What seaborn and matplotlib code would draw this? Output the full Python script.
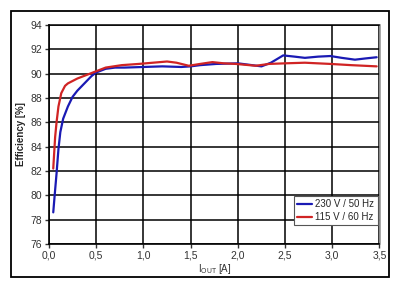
import matplotlib
matplotlib.use("Agg")
import matplotlib.pyplot as plt
import seaborn as sns
import pandas as pd
from matplotlib.ticker import FuncFormatter
from matplotlib.patches import Rectangle

# ---- data ----
series_names = ["230 V / 50 Hz", "115 V / 60 Hz"]
blue_x = [0.045, 0.06, 0.08, 0.1, 0.12, 0.15, 0.2, 0.25, 0.3, 0.35, 0.4, 0.45, 0.5, 0.6, 0.7,
          0.8, 1.0, 1.2, 1.4, 1.5, 1.6, 1.77, 2.0, 2.1, 2.25, 2.35, 2.48, 2.6, 2.71, 2.85,
          2.98, 3.1, 3.24, 3.35, 3.47]
blue_y = [78.6, 80.0, 81.8, 83.8, 85.2, 86.3, 87.3, 88.1, 88.6, 89.0, 89.4, 89.8, 90.1, 90.4, 90.5,
          90.5, 90.55, 90.6, 90.55, 90.6, 90.7, 90.8, 90.85, 90.75, 90.6, 90.9, 91.5, 91.4, 91.3, 91.4,
          91.45, 91.3, 91.15, 91.25, 91.35]
red_x = [0.045, 0.055, 0.065, 0.08, 0.1, 0.13, 0.17, 0.2, 0.3, 0.4, 0.5, 0.6, 0.77, 0.95, 1.1,
         1.25, 1.35, 1.48, 1.6, 1.73, 1.85, 1.98, 2.19, 2.33, 2.5, 2.71, 2.98, 3.2, 3.47]
red_y = [82.2, 83.5, 84.8, 86.0, 87.3, 88.4, 89.0, 89.2, 89.6, 89.9, 90.2, 90.5, 90.7, 90.8, 90.9,
         91.0, 90.9, 90.65, 90.8, 90.95, 90.85, 90.8, 90.65, 90.8, 90.85, 90.9, 90.8, 90.7, 90.6]
x_ticks = [0.0, 0.5, 1.0, 1.5, 2.0, 2.5, 3.0, 3.5]
y_ticks = [76, 78, 80, 82, 84, 86, 88, 90, 92, 94]

df = pd.concat([
    pd.DataFrame({"I": blue_x, "eff": blue_y, "series": series_names[0]}),
    pd.DataFrame({"I": red_x, "eff": red_y, "series": series_names[1]}),
])

sns.set_style("white")
plt.rcParams["font.family"] = ["Liberation Sans", "DejaVu Sans"]
plt.rcParams["mathtext.fontset"] = "custom"
plt.rcParams["mathtext.rm"] = "Liberation Sans"

fig = plt.figure(figsize=(3.99, 2.87), dpi=100)
ax = fig.add_axes([49 / 399, 1 - 244 / 287, 330.5 / 399, 219 / 287])

sns.lineplot(data=df, x="I", y="eff", hue="series", hue_order=series_names,
             palette=["#1a1ab4", "#d02424"], linewidth=1.6, sort=False,
             estimator=None, ax=ax)

ax.set_xlim(0, 3.5)
ax.set_ylim(76, 94)
ax.set_xticks(x_ticks)
ax.set_yticks(y_ticks)
fmt = FuncFormatter(lambda v, p: f"{v:.1f}".replace(".", ","))
ax.xaxis.set_major_formatter(fmt)
ax.grid(True, color="black", linewidth=1.1)
ax.set_axisbelow(True)
ax.tick_params(axis="both", labelsize=7.5, colors="#333333", length=3, width=1,
               direction="out", pad=2, left=True, bottom=True)
for side in ["left", "bottom"]:
    ax.spines[side].set_color("black")
    ax.spines[side].set_linewidth(1.2)
ax.spines["top"].set_color("black")
ax.spines["top"].set_linewidth(1.1)
ax.spines["right"].set_color("#9a9a9a")
ax.spines["right"].set_linewidth(1.2)

ax.set_xlabel(r"$\mathregular{I_{OUT}}$ [A]", fontsize=7, color="#333333", labelpad=1)
ax.set_ylabel("Efficiency [%]", fontsize=7, fontweight="bold", labelpad=3)

leg = ax.legend(loc="lower right", bbox_to_anchor=(0.995, 0.085), fontsize=7,
                frameon=True, fancybox=False, framealpha=1, edgecolor="#555555",
                handlelength=1.5, handletextpad=0.4, borderpad=0.35, labelspacing=0.3,
                borderaxespad=0)
leg.get_frame().set_linewidth(0.8)

fig.patches.append(Rectangle((10.5 / 399, 1 - 277 / 287), 378 / 399, 266 / 287,
                             transform=fig.transFigure, fill=False,
                             edgecolor="black", linewidth=1.3))

fig.savefig("out.png", dpi=100)
